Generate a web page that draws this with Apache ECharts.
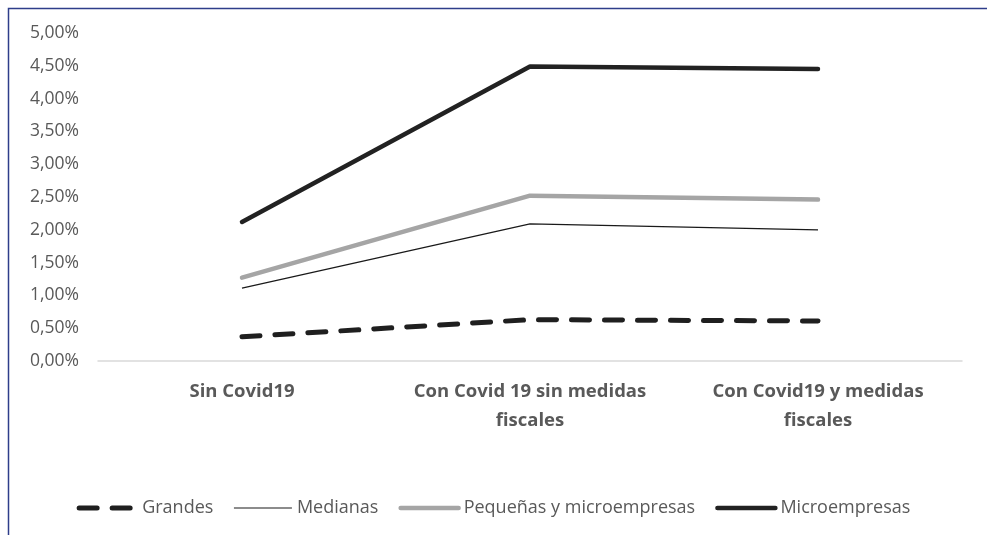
<!DOCTYPE html>
<html>
<head>
<meta charset="utf-8">
<script src="https://cdn.jsdelivr.net/npm/echarts@6/dist/echarts.min.js"></script>
<style>
  html, body { margin: 0; padding: 0; background: #fff; }
  #chart { width: 987px; height: 535px; }
</style>
</head>
<body>
<div id="chart"></div>
<script>
// Escenarios y tasas por tamaño de empresa (en %)
const categories = ['Sin Covid19', 'Con Covid 19 sin medidas\nfiscales', 'Con Covid19 y medidas\nfiscales'];
const grandes = [0.37, 0.63, 0.61];
const medianas = [1.11, 2.09, 2.00];
const pequenasMicro = [1.27, 2.52, 2.46];
const microempresas = [2.12, 4.49, 4.45];
const yTicks = { min: 0, max: 5, interval: 0.5 };

const FONT = "'Open Sans', sans-serif";
const chart = echarts.init(document.getElementById('chart'), null, { renderer: 'canvas' });

function fmt(v) {
  return v.toFixed(2).replace('.', ',') + '%';
}

const styles = {
  'Grandes': { color: '#1f1f1f', width: 5, type: [18, 15], cap: 'round' },
  'Medianas': { color: '#1a1a1a', width: 1.2, type: 'solid', cap: 'butt' },
  'Pequeñas y microempresas': { color: '#A5A5A5', width: 4.5, type: 'solid', cap: 'round' },
  'Microempresas': { color: '#222222', width: 4.5, type: 'solid', cap: 'round' }
};
const seriesData = {
  'Grandes': grandes,
  'Medianas': medianas,
  'Pequeñas y microempresas': pequenasMicro,
  'Microempresas': microempresas
};
const names = Object.keys(seriesData);

chart.setOption({
  animation: false,
  backgroundColor: '#ffffff',
  graphic: [{
    type: 'rect',
    shape: { x: 8.5, y: 8.5, width: 1100, height: 700 },
    style: { fill: 'none', stroke: '#2E3D8A', lineWidth: 1.5 },
    silent: true
  }],
  grid: { left: 98, right: 25, top: 33, bottom: 174 },
  legend: {
    top: 494,
    left: 'center',
    itemWidth: 58,
    itemHeight: 12,
    itemGap: 20,
    itemStyle: { opacity: 0 },
    textStyle: { fontFamily: FONT, fontSize: 18, color: '#595959' },
    data: names.map(n => ({
      name: n,
      itemStyle: { opacity: 0 },
      lineStyle: {
        color: styles[n].color,
        width: styles[n].width,
        type: styles[n].type,
        cap: styles[n].cap
      }
    }))
  },
  xAxis: {
    type: 'category',
    data: categories,
    boundaryGap: true,
    axisLine: { lineStyle: { color: '#D9D9D9', width: 1.5 } },
    axisTick: { show: false },
    axisLabel: {
      interval: 0,
      hideOverlap: false,
      margin: 16,
      fontFamily: FONT,
      fontSize: 18.5,
      fontWeight: 'bold',
      color: '#595959',
      lineHeight: 29
    }
  },
  yAxis: {
    type: 'value',
    min: yTicks.min,
    max: yTicks.max,
    interval: yTicks.interval,
    axisLine: { show: false },
    axisTick: { show: false },
    splitLine: { show: false },
    axisLabel: {
      margin: 19,
      fontFamily: FONT,
      fontSize: 17.5,
      color: '#595959',
      formatter: fmt
    }
  },
  series: names.map(n => ({
    name: n,
    type: 'line',
    data: seriesData[n],
    symbol: 'none',
    lineStyle: {
      color: styles[n].color,
      width: styles[n].width,
      type: styles[n].type,
      cap: styles[n].cap
    },
    itemStyle: { color: styles[n].color }
  }))
});
</script>
</body>
</html>
